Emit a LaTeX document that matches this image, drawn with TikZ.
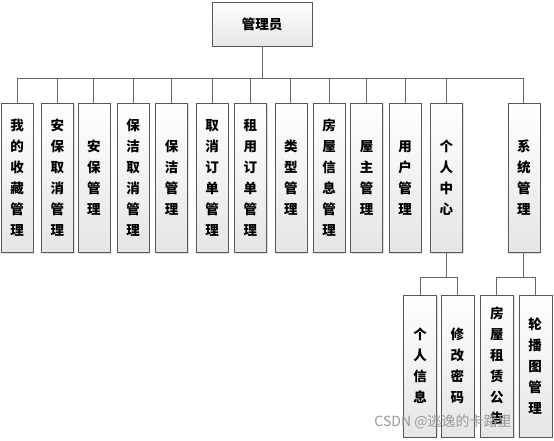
\documentclass[tikz,border=0pt]{standalone}
\usepackage{fontspec}
\setmainfont{Noto Sans CJK SC}
\usetikzlibrary{positioning}
\usetikzlibrary{shadows}
\tikzset{%
	% Specifications for style of nodes:
	base/.style = {rectangle, draw=black!65, top color=white, bottom color=black!10, drop shadow={shadow xshift=1.2pt, shadow yshift=-1.2pt, opacity=0.25}, inner sep=0pt, align=center, font=\fontsize{13.5}{21}\selectfont\bfseries},
	root/.style = {base, minimum width=100pt, minimum height=44pt},
	func/.style = {base, minimum width=32pt, minimum height=149pt},
	sub/.style = {base, minimum width=33pt, minimum height=142pt},
	link/.style = {draw=black!60, line width=0.8pt},
}
\begin{document}
\begin{tikzpicture}[x=1pt,y=-1pt]
		\useasboundingbox (0,0) rectangle (554,441);
		\fill[white] (0,0) rectangle (554,441);

		\node (Admin) [root] at (262,24) {管理员};

		\node (Fav) [func] at (17,178) {我\\的\\收\\藏\\管\\理};
		\node (GuardCancel) [func, right=8pt of Fav] {安\\保\\取\\消\\管\\理};
		\node (Guard) [func, right=4pt of GuardCancel] {安\\保\\管\\理};
		\node (CleanCancel) [func, right=7pt of Guard] {保\\洁\\取\\消\\管\\理};
		\node (Clean) [func, right=6pt of CleanCancel] {保\\洁\\管\\理};
		\node (OrderCancel) [func, right=8pt of Clean] {取\\消\\订\\单\\管\\理};
		\node (RentOrder) [func, right=6pt of OrderCancel] {租\\用\\订\\单\\管\\理};
		\node (Type) [func, right=8pt of RentOrder] {类\\型\\管\\理};
		\node (House) [func, right=6pt of Type] {房\\屋\\信\\息\\管\\理};
		\node (Owner) [func, right=5pt of House] {屋\\主\\管\\理};
		\node (User) [func, right=6pt of Owner] {用\\户\\管\\理};
		\node (Center) [func, right=9pt of User] {个\\人\\中\\心};
		\node (System) [func, right=45pt of Center] {系\\统\\管\\理};

		\node (Info) [sub] at (420,366) {个\\人\\信\\息};
		\node (Pwd) [sub, right=4pt of Info] {修\\改\\密\\码};
		\node (Notice) [sub, right=6pt of Pwd] {房\\屋\\租\\赁\\公\\告};
		\node (Banner) [sub, right=5pt of Notice] {轮\\播\\图\\管\\理};

		\coordinate (bus) at (262,78);
		\draw [link] (Admin.south) -- (bus);
		\foreach \n in {Fav,GuardCancel,Guard,CleanCancel,Clean,OrderCancel,RentOrder,Type,House,Owner,User,Center,System}
			\draw [link] (bus) -| (\n.north);

		\draw [link] (Center.south) -- ++(0,25) -| (Info.north);
		\draw [link] (Center.south) -- ++(0,25) -| (Pwd.north);
		\draw [link] (System.south) -- ++(0,25) -| (Notice.north);
		\draw [link] (System.south) -- ++(0,25) -| (Banner.north);

		\node (mark) [text=black!40, font=\fontsize{14}{14}\selectfont] at (443,422) {CSDN @逃逸的卡路里};
\end{tikzpicture}
\end{document}
